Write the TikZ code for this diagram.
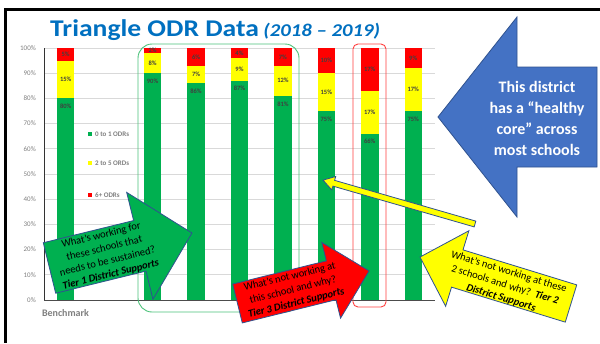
\documentclass[tikz,border=0pt]{standalone}
\usepackage{fontspec}
\setmainfont{Carlito}
\usetikzlibrary{positioning}

\definecolor{titleblue}{HTML}{0070C0}
\definecolor{bargreen}{HTML}{00B050}
\definecolor{baryellow}{HTML}{FFFF00}
\definecolor{barred}{HTML}{FF0000}
\definecolor{arrowblue}{HTML}{4472C4}
\definecolor{edgeblue}{HTML}{2F528F}
\definecolor{gridgray}{HTML}{D9D9D9}
\definecolor{axisgray}{HTML}{808080}
\definecolor{labelgray}{HTML}{404040}
\definecolor{boxgreen}{HTML}{4CC27A}
\definecolor{boxred}{HTML}{FF4040}

\tikzset{
    pct/.style={
           font=\fontsize{6.5}{7}\selectfont\bfseries,
           text=labelgray,
           inner sep=0pt,
           },
}
\tikzset{
    ticklab/.style={
           font=\fontsize{7}{8}\selectfont,
           text=axisgray,
           anchor=east,
           inner sep=0pt,
           },
}
\tikzset{
    legendlab/.style={
           font=\fontsize{7}{8}\selectfont\bfseries,
           text=axisgray,
           anchor=west,
           inner sep=0pt,
           },
}
\tikzset{
    callout/.style={
           draw=edgeblue,
           line width=0.8pt,
           },
}
\tikzset{
    callouttext/.style={
           font=\fontsize{10.5}{13.5}\selectfont,
           align=center,
           inner sep=0pt,
           text=black,
           },
}

\begin{document}
\begin{tikzpicture}[x=1pt,y=-1pt]

\useasboundingbox (0,0) rectangle (600,343);
\fill[white] (0,0) rectangle (600,343);

% frame
\draw[line width=3pt] (4,9.5) -- (600,9.5);
\draw[line width=3pt] (5.5,8) -- (5.5,343);

% title
\node[anchor=base west,inner sep=0pt,xscale=1.15,text=titleblue,font=\fontsize{24}{28}\selectfont\bfseries](title) at (50,36){Triangle ODR Data};
\node[anchor=base west,inner sep=0pt,xscale=1.15,text=titleblue,font=\fontsize{18}{22}\selectfont\bfseries\itshape](years) at ([xshift=4]title.base east){(2018 – 2019)};

% grid and axis
\foreach \p in {10,20,...,100}
  \draw[gridgray,line width=1pt] (44,300-2.52*\p) -- (435,300-2.52*\p);
\foreach \p in {0,10,...,100}
  \node[ticklab] at (36,300-2.52*\p) {\p\%};

% bars: slot/green/yellow/red
\foreach \sl/\gv/\yv/\rv in {0/80/15/5, 2/90/8/2, 3/86/7/6, 4/87/9/4, 5/81/12/7, 6/75/15/10, 7/66/17/17, 8/75/17/9}{
  \pgfmathsetmacro{\xc}{44+43.44*(\sl+0.5)}
  \pgfmathsetmacro{\yg}{300-2.52*\gv}
  \pgfmathsetmacro{\yy}{300-2.52*(\gv+\yv)}
  \fill[bargreen] (\xc-8.7,300) rectangle (\xc+8.7,\yg);
  \fill[baryellow] (\xc-8.7,\yg) rectangle (\xc+8.7,\yy);
  \fill[barred] (\xc-8.7,\yy) rectangle (\xc+8.7,48);
  \node[pct] at (\xc,\yg+8) {\gv\%};
  \node[pct] at (\xc,{(\yg+\yy)/2}) {\yv\%};
  \node[pct] at (\xc,{(\yy+48)/2}) {\rv\%};
}

\draw[black!80,line width=0.8pt] (44,48) -- (44,300);
\draw[black!70,line width=1pt] (44,300) -- (435,300);

\node[font=\fontsize{10}{12}\selectfont\bfseries,text=axisgray](bench) at (65.5,313){Benchmark};

% legend
\foreach \ly/\lc/\lt [count=\i] in {134/bargreen/0 to 1 ODRs, 163/baryellow/2 to 5 ORDs, 195/barred/6+ ODRs}{
  \fill[\lc] (88,\ly-2) rectangle (92,\ly+2);
  \node[legendlab](leg\i) at (95,\ly){\lt};
}

% highlight boxes
\draw[boxgreen,line width=0.9pt,rounded corners=14pt] (138,44) rectangle (299,312);
\draw[boxred,line width=0.9pt,rounded corners=5pt] (353,44) rectangle (386,307);

% big blue arrow
\filldraw[fill=arrowblue,draw=edgeblue,line width=0.8pt] (438,117) -- (517,17) -- (517,67) -- (597,67) -- (597,167) -- (517,167) -- (517,217) -- cycle;
\node[font=\fontsize{16}{21}\selectfont\bfseries,text=white,align=center](healthy) at (537,118){This district\\has a “healthy\\core” across\\most schools};

% thin yellow pointer
\begin{scope}[shift={(475,224)},rotate=163.9]
  \filldraw[callout,fill=baryellow] (0,-3) -- (147,-3) -- (147,-7) -- (158.2,0) -- (147,7) -- (147,3) -- (0,3) -- cycle;
\end{scope}

% tier 1
\begin{scope}[shift={(49.5,268)},rotate=13.8]
  \filldraw[callout,fill=bargreen] (0,-26) -- (93,-26) -- (93,-55) -- (146.7,0) -- (93,55) -- (93,26) -- (0,26) -- cycle;
\end{scope}
\node[callouttext,rotate=13.8](tier1) at (106,255){What’s working for\\these schools that\\needs to be sustained?\\\textbf{\textit{Tier 1 District Supports}}};

% tier 3
\begin{scope}[shift={(237.5,303.5)},rotate=13.9]
  \filldraw[callout,fill=barred] (0,-20) -- (96.5,-20) -- (96.5,-39) -- (135.5,0) -- (96.5,39) -- (96.5,20) -- (0,20) -- cycle;
\end{scope}
\node[callouttext,rotate=13.9](tier3) at (293,290){What’s not working at\\this school and why?\\\textbf{\textit{Tier 3 District Supports}}};

% tier 2
\begin{scope}[shift={(571,303.5)},rotate=162.9]
  \filldraw[callout,fill=baryellow] (0,-19.5) -- (119,-19.5) -- (119,-39.5) -- (158,0) -- (119,39.5) -- (119,19.5) -- (0,19.5) -- cycle;
\end{scope}
\node[callouttext,rotate=-17.1](tier2) at (505,285){What’s not working at these\\2 schools and why?~~\textbf{\textit{Tier 2}}\\\textbf{\textit{District Supports}}};

\end{tikzpicture}
\end{document}
